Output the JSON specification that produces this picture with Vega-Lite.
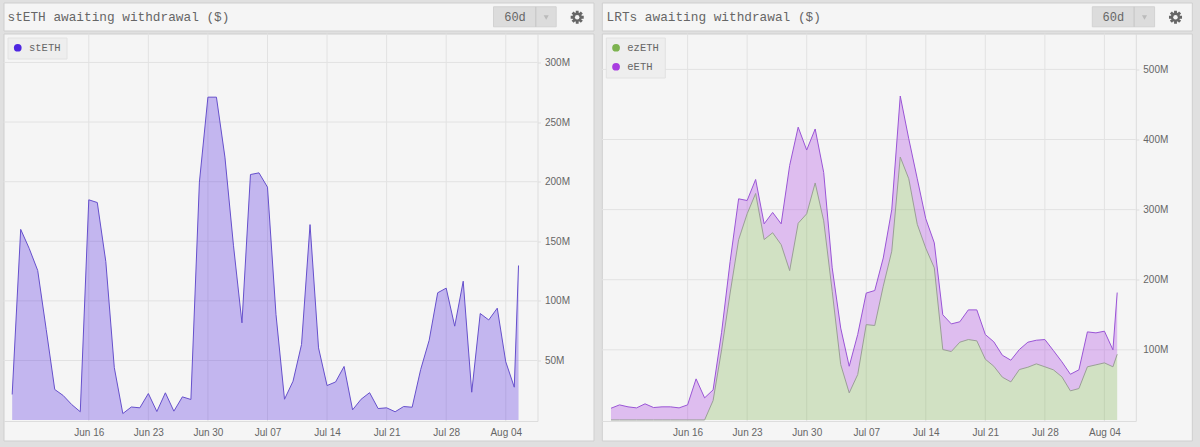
{
  "$schema": "https://vega.github.io/schema/vega-lite/v6.json",
  "background": "#e0e0e0",
  "padding": {"left": 2.5, "top": 1.5, "right": 8, "bottom": 10},
  "config": {
    "view": {"fill": "#f5f5f5", "stroke": "#cfcfcf"},
    "axis": {"labelFont": "Liberation Sans", "labelFontSize": 10, "labelColor": "#666666", "grid": false, "domainColor": "#dddddd", "tickColor": "#dddddd", "title": null},
    "legend": {"orient": "top-left", "offset": 4, "title": null, "fillColor": "#eeeeee", "strokeColor": "#e2e2e2", "padding": 5, "symbolType": "circle", "symbolSize": 60, "symbolStrokeWidth": 0, "symbolOpacity": 1, "labelFont": "Liberation Mono", "labelFontSize": 10.5, "labelColor": "#666666", "labelOffset": 6, "rowPadding": 8}
  },
  "datasets": {
    "steth": [
      {"date": "2024-06-07", "stETH": 21.5}, {"date": "2024-06-08", "stETH": 160}, {"date": "2024-06-09", "stETH": 144}, {"date": "2024-06-10", "stETH": 125.5},
      {"date": "2024-06-11", "stETH": 76}, {"date": "2024-06-12", "stETH": 25.7}, {"date": "2024-06-13", "stETH": 20.6}, {"date": "2024-06-14", "stETH": 13},
      {"date": "2024-06-15", "stETH": 7}, {"date": "2024-06-16", "stETH": 184.8}, {"date": "2024-06-17", "stETH": 182.5}, {"date": "2024-06-18", "stETH": 133},
      {"date": "2024-06-19", "stETH": 44}, {"date": "2024-06-20", "stETH": 5.5}, {"date": "2024-06-21", "stETH": 11}, {"date": "2024-06-22", "stETH": 10.3},
      {"date": "2024-06-23", "stETH": 22.3}, {"date": "2024-06-24", "stETH": 7.2}, {"date": "2024-06-25", "stETH": 22.9}, {"date": "2024-06-26", "stETH": 7.5},
      {"date": "2024-06-27", "stETH": 19.5}, {"date": "2024-06-28", "stETH": 17.3}, {"date": "2024-06-29", "stETH": 199.6}, {"date": "2024-06-30", "stETH": 270.9},
      {"date": "2024-07-01", "stETH": 270.9}, {"date": "2024-07-02", "stETH": 220.6}, {"date": "2024-07-03", "stETH": 146.7}, {"date": "2024-07-04", "stETH": 81.6},
      {"date": "2024-07-05", "stETH": 206}, {"date": "2024-07-06", "stETH": 207.4}, {"date": "2024-07-07", "stETH": 195.4}, {"date": "2024-07-08", "stETH": 88.6},
      {"date": "2024-07-09", "stETH": 17.5}, {"date": "2024-07-10", "stETH": 32.6}, {"date": "2024-07-11", "stETH": 63.4}, {"date": "2024-07-12", "stETH": 164},
      {"date": "2024-07-13", "stETH": 60.6}, {"date": "2024-07-14", "stETH": 29}, {"date": "2024-07-15", "stETH": 32}, {"date": "2024-07-16", "stETH": 45},
      {"date": "2024-07-17", "stETH": 8.6}, {"date": "2024-07-18", "stETH": 17.5}, {"date": "2024-07-19", "stETH": 23}, {"date": "2024-07-20", "stETH": 9.7},
      {"date": "2024-07-21", "stETH": 10.3}, {"date": "2024-07-22", "stETH": 7}, {"date": "2024-07-23", "stETH": 11.4}, {"date": "2024-07-24", "stETH": 10.8},
      {"date": "2024-07-25", "stETH": 42.4}, {"date": "2024-07-26", "stETH": 67}, {"date": "2024-07-27", "stETH": 106.8}, {"date": "2024-07-28", "stETH": 110.7},
      {"date": "2024-07-29", "stETH": 78.8}, {"date": "2024-07-30", "stETH": 116.5}, {"date": "2024-07-31", "stETH": 23.4}, {"date": "2024-08-01", "stETH": 89.4},
      {"date": "2024-08-02", "stETH": 84}, {"date": "2024-08-03", "stETH": 93.9}, {"date": "2024-08-04", "stETH": 48.9}, {"date": "2024-08-05", "stETH": 27.6},
      {"date": "2024-08-05T12:00:00Z", "stETH": 129.7}
    ],
    "lrts": [
      {"date": "2024-06-07", "ezETH": 0, "eETH": 16.7}, {"date": "2024-06-08", "ezETH": 0, "eETH": 21.5}, {"date": "2024-06-09", "ezETH": 0, "eETH": 18.7}, {"date": "2024-06-10", "ezETH": 0, "eETH": 17.2},
      {"date": "2024-06-11", "ezETH": 0, "eETH": 23}, {"date": "2024-06-12", "ezETH": 0, "eETH": 17.7}, {"date": "2024-06-13", "ezETH": 0, "eETH": 18.7}, {"date": "2024-06-14", "ezETH": 0, "eETH": 18.7},
      {"date": "2024-06-15", "ezETH": 0, "eETH": 17.2}, {"date": "2024-06-16", "ezETH": 0, "eETH": 21.5}, {"date": "2024-06-17", "ezETH": 0, "eETH": 58.6}, {"date": "2024-06-18", "ezETH": 0, "eETH": 31.5},
      {"date": "2024-06-19", "ezETH": 27.7, "eETH": 15.2}, {"date": "2024-06-20", "ezETH": 100, "eETH": 25}, {"date": "2024-06-21", "ezETH": 181, "eETH": 45}, {"date": "2024-06-22", "ezETH": 257, "eETH": 58.4},
      {"date": "2024-06-23", "ezETH": 294, "eETH": 19}, {"date": "2024-06-24", "ezETH": 323, "eETH": 20}, {"date": "2024-06-25", "ezETH": 257.3, "eETH": 22.4}, {"date": "2024-06-26", "ezETH": 267, "eETH": 29},
      {"date": "2024-06-27", "ezETH": 250, "eETH": 29.7}, {"date": "2024-06-28", "ezETH": 213, "eETH": 150}, {"date": "2024-06-29", "ezETH": 280.6, "eETH": 137}, {"date": "2024-06-30", "ezETH": 294, "eETH": 91},
      {"date": "2024-07-01", "ezETH": 338, "eETH": 77}, {"date": "2024-07-02", "ezETH": 284, "eETH": 69}, {"date": "2024-07-03", "ezETH": 183.6, "eETH": 33.4}, {"date": "2024-07-04", "ezETH": 79, "eETH": 52},
      {"date": "2024-07-05", "ezETH": 38.6, "eETH": 38}, {"date": "2024-07-06", "ezETH": 64.8, "eETH": 57.2}, {"date": "2024-07-07", "ezETH": 136, "eETH": 45}, {"date": "2024-07-08", "ezETH": 134.7, "eETH": 49.9},
      {"date": "2024-07-09", "ezETH": 190.7, "eETH": 40.3}, {"date": "2024-07-10", "ezETH": 240.7, "eETH": 59.3}, {"date": "2024-07-11", "ezETH": 375, "eETH": 87}, {"date": "2024-07-12", "ezETH": 344, "eETH": 57},
      {"date": "2024-07-13", "ezETH": 279, "eETH": 65}, {"date": "2024-07-14", "ezETH": 245, "eETH": 42}, {"date": "2024-07-15", "ezETH": 217, "eETH": 35.6}, {"date": "2024-07-16", "ezETH": 100.4, "eETH": 49.6},
      {"date": "2024-07-17", "ezETH": 97.6, "eETH": 39.4}, {"date": "2024-07-18", "ezETH": 110.9, "eETH": 29.1}, {"date": "2024-07-19", "ezETH": 114.7, "eETH": 42.3}, {"date": "2024-07-20", "ezETH": 112.8, "eETH": 44.2},
      {"date": "2024-07-21", "ezETH": 86.6, "eETH": 35.2}, {"date": "2024-07-22", "ezETH": 76.6, "eETH": 34.8}, {"date": "2024-07-23", "ezETH": 61, "eETH": 31.3}, {"date": "2024-07-24", "ezETH": 54.3, "eETH": 30.9},
      {"date": "2024-07-25", "ezETH": 71.9, "eETH": 28.5}, {"date": "2024-07-26", "ezETH": 75.2, "eETH": 35.7}, {"date": "2024-07-27", "ezETH": 80, "eETH": 33.7}, {"date": "2024-07-28", "ezETH": 75.8, "eETH": 38.9},
      {"date": "2024-07-29", "ezETH": 71.5, "eETH": 27.5}, {"date": "2024-07-30", "ezETH": 61.5, "eETH": 21.4}, {"date": "2024-07-31", "ezETH": 41.5, "eETH": 23.7}, {"date": "2024-08-01", "ezETH": 44.8, "eETH": 26.7},
      {"date": "2024-08-02", "ezETH": 75.8, "eETH": 49.8}, {"date": "2024-08-03", "ezETH": 78.6, "eETH": 45.6}, {"date": "2024-08-04", "ezETH": 81.4, "eETH": 45.2}, {"date": "2024-08-05", "ezETH": 75.8, "eETH": 24.2},
      {"date": "2024-08-05T12:00:00Z", "ezETH": 93.7, "eETH": 88}
    ],
    "header": [{"range": "60d"}],
    "weeks": [{"week": "2024-06-16"}, {"week": "2024-06-23"}, {"week": "2024-06-30"}, {"week": "2024-07-07"}, {"week": "2024-07-14"}, {"week": "2024-07-21"}, {"week": "2024-07-28"}, {"week": "2024-08-04"}],
    "levelsLeft": [{"level": 50}, {"level": 100}, {"level": 150}, {"level": 200}, {"level": 250}, {"level": 300}],
    "levelsRight": [{"level": 100}, {"level": 200}, {"level": 300}, {"level": 400}, {"level": 500}]
  },
  "resolve": {"scale": {"color": "independent", "stroke": "independent"}, "legend": {"color": "independent"}},
  "spacing": 6.3,
  "hconcat": [
    {
      "spacing": 1,
      "resolve": {"scale": {"color": "independent"}, "legend": {"color": "independent"}},
      "vconcat": [
        {
          "width": 590,
          "height": 28,
          "data": {"name": "header"},
          "encoding": {
            "x": {"type": "quantitative", "scale": {"domain": [0, 590], "nice": false, "zero": false}, "axis": null},
            "y": {"type": "quantitative", "scale": {"domain": [28, 0], "nice": false, "zero": false}, "axis": null}
          },
          "layer": [
            {"mark": {"type": "text", "text": "stETH awaiting withdrawal ($)", "font": "Liberation Mono", "fontSize": 12.75, "color": "#666666", "align": "left", "baseline": "middle"}, "encoding": {"x": {"datum": 4}, "y": {"datum": 14.5}}},
            {"mark": {"type": "rect", "fill": "#dcdcdc", "stroke": "#d2d2d2"}, "encoding": {"x": {"datum": 490}, "x2": {"datum": 552.7}, "y": {"datum": 4.3}, "y2": {"datum": 24.3}}},
            {"mark": {"type": "rule", "stroke": "#c4c4c4"}, "encoding": {"x": {"datum": 532.3}, "y": {"datum": 4.3}, "y2": {"datum": 24.3}}},
            {"mark": {"type": "text", "font": "Liberation Mono", "fontSize": 12, "color": "#666666", "baseline": "middle"}, "encoding": {"text": {"field": "range"}, "x": {"datum": 511.5}, "y": {"datum": 14.5}}},
            {"mark": {"type": "point", "shape": "triangle-down", "filled": true, "color": "#bbbbbb", "size": 26, "opacity": 1}, "encoding": {"x": {"datum": 542.7}, "y": {"datum": 15}}},
            {"mark": {"type": "point", "shape": "M-1,-.22L1,-.22L1,.22L-1,.22ZM-.22,-1L.22,-1L.22,1L-.22,1ZM-.55,-.86L.86,.55L.55,.86L-.86,-.55ZM-.86,.55L.55,-.86L.86,-.55L-.55,.86ZM-.72,0A.72,.72 0 1 1 .72,0A.72,.72 0 1 1 -.72,0Z", "filled": true, "color": "#666666", "size": 170, "opacity": 1}, "encoding": {"x": {"datum": 573.7}, "y": {"datum": 14.7}}},
            {"mark": {"type": "point", "shape": "circle", "filled": true, "color": "#f5f5f5", "size": 20, "opacity": 1}, "encoding": {"x": {"datum": 573.7}, "y": {"datum": 14.7}}}
          ]
        },
        {
          "width": 590,
          "height": 407,
          "layer": [
            {
              "data": {"name": "weeks"},
              "mark": {"type": "rule", "stroke": "#e2e2e2"},
              "encoding": {
                "x": {"field": "week", "type": "temporal", "scale": {"type": "utc", "domain": ["2024-06-05T23:30:00Z", "2024-08-07T17:30:00Z"], "range": [0, 534], "nice": false}},
                "y": {"datum": -0.75, "type": "quantitative", "scale": {"domain": [-0.75, 324.3], "range": [387.5, 0], "nice": false, "zero": false}},
                "y2": {"datum": 324.3}
              }
            },
            {
              "data": {"name": "levelsLeft"},
              "mark": {"type": "rule", "stroke": "#e2e2e2"},
              "encoding": {
                "x": {"datum": {"year": 2024, "month": "jun", "date": 5, "hours": 23, "minutes": 30, "utc": true}, "type": "temporal", "scale": {"type": "utc", "domain": ["2024-06-05T23:30:00Z", "2024-08-07T17:30:00Z"], "range": [0, 534], "nice": false}},
                "x2": {"datum": {"year": 2024, "month": "aug", "date": 7, "hours": 17, "minutes": 30, "utc": true}},
                "y": {"field": "level", "type": "quantitative", "scale": {"domain": [-0.75, 324.3], "range": [387.5, 0], "nice": false, "zero": false}}
              }
            },
            {
              "data": {"name": "steth"},
              "transform": [{"fold": ["stETH"], "as": ["series", "value"]}],
              "mark": {"type": "area", "fillOpacity": 0.3},
              "encoding": {
                "x": {"field": "date", "type": "temporal", "scale": {"type": "utc", "domain": ["2024-06-05T23:30:00Z", "2024-08-07T17:30:00Z"], "range": [0, 534], "nice": false}},
                "y": {"field": "value", "type": "quantitative", "scale": {"domain": [-0.75, 324.3], "range": [387.5, 0], "nice": false, "zero": false}},
                "color": {"field": "series", "type": "nominal", "scale": {"domain": ["stETH"], "range": ["#4e26e1"]}}
              }
            },
            {
              "data": {"name": "steth"},
              "transform": [{"fold": ["stETH"], "as": ["series", "value"]}],
              "mark": {"type": "line", "strokeWidth": 1, "color": "#6650cc"},
              "encoding": {
                "x": {
                  "field": "date", "type": "temporal",
                  "scale": {"type": "utc", "domain": ["2024-06-05T23:30:00Z", "2024-08-07T17:30:00Z"], "range": [0, 534], "nice": false},
                  "axis": {"orient": "bottom", "offset": -19.5, "format": "%b %d", "tickSize": 0, "labelPadding": 6, "labelFlush": false, "title": null,
                    "values": [{"year": 2024, "month": "jun", "date": 16, "utc": true}, {"year": 2024, "month": "jun", "date": 23, "utc": true}, {"year": 2024, "month": "jun", "date": 30, "utc": true}, {"year": 2024, "month": "jul", "date": 7, "utc": true}, {"year": 2024, "month": "jul", "date": 14, "utc": true}, {"year": 2024, "month": "jul", "date": 21, "utc": true}, {"year": 2024, "month": "jul", "date": 28, "utc": true}, {"year": 2024, "month": "aug", "date": 4, "utc": true}]}
                },
                "y": {
                  "field": "value", "type": "quantitative",
                  "scale": {"domain": [-0.75, 324.3], "range": [387.5, 0], "nice": false, "zero": false},
                  "axis": {"orient": "right", "offset": -56, "values": [50, 100, 150, 200, 250, 300], "labelExpr": "datum.value + 'M'", "tickSize": 3, "labelPadding": 4, "title": null}
                }
              }
            }
          ]
        }
      ]
    },
    {
      "spacing": 1,
      "resolve": {"scale": {"color": "independent"}, "legend": {"color": "independent"}},
      "vconcat": [
        {
          "width": 590,
          "height": 28,
          "data": {"name": "header"},
          "encoding": {
            "x": {"type": "quantitative", "scale": {"domain": [0, 590], "nice": false, "zero": false}, "axis": null},
            "y": {"type": "quantitative", "scale": {"domain": [28, 0], "nice": false, "zero": false}, "axis": null}
          },
          "layer": [
            {"mark": {"type": "text", "text": "LRTs awaiting withdrawal ($)", "font": "Liberation Mono", "fontSize": 12.75, "color": "#666666", "align": "left", "baseline": "middle"}, "encoding": {"x": {"datum": 4.8}, "y": {"datum": 14.5}}},
            {"mark": {"type": "rect", "fill": "#dcdcdc", "stroke": "#d2d2d2"}, "encoding": {"x": {"datum": 490.5}, "x2": {"datum": 552.8}, "y": {"datum": 4.3}, "y2": {"datum": 24.3}}},
            {"mark": {"type": "rule", "stroke": "#c4c4c4"}, "encoding": {"x": {"datum": 532.3}, "y": {"datum": 4.3}, "y2": {"datum": 24.3}}},
            {"mark": {"type": "text", "font": "Liberation Mono", "fontSize": 12, "color": "#666666", "baseline": "middle"}, "encoding": {"text": {"field": "range"}, "x": {"datum": 511.5}, "y": {"datum": 14.5}}},
            {"mark": {"type": "point", "shape": "triangle-down", "filled": true, "color": "#bbbbbb", "size": 26, "opacity": 1}, "encoding": {"x": {"datum": 542.7}, "y": {"datum": 15}}},
            {"mark": {"type": "point", "shape": "M-1,-.22L1,-.22L1,.22L-1,.22ZM-.22,-1L.22,-1L.22,1L-.22,1ZM-.55,-.86L.86,.55L.55,.86L-.86,-.55ZM-.86,.55L.55,-.86L.86,-.55L-.55,.86ZM-.72,0A.72,.72 0 1 1 .72,0A.72,.72 0 1 1 -.72,0Z", "filled": true, "color": "#666666", "size": 170, "opacity": 1}, "encoding": {"x": {"datum": 573.7}, "y": {"datum": 14.7}}},
            {"mark": {"type": "point", "shape": "circle", "filled": true, "color": "#f5f5f5", "size": 20, "opacity": 1}, "encoding": {"x": {"datum": 573.7}, "y": {"datum": 14.7}}}
          ]
        },
        {
          "width": 590,
          "height": 407,
          "layer": [
            {
              "data": {"name": "weeks"},
              "mark": {"type": "rule", "stroke": "#e2e2e2"},
              "encoding": {
                "x": {"field": "week", "type": "temporal", "scale": {"type": "utc", "domain": ["2024-06-05T22:00:00Z", "2024-08-07T16:30:00Z"], "range": [0, 534], "nice": false}},
                "y": {"datum": -1.5, "type": "quantitative", "scale": {"domain": [-1.5, 551.2], "range": [387.5, 0], "nice": false, "zero": false}},
                "y2": {"datum": 551.2}
              }
            },
            {
              "data": {"name": "levelsRight"},
              "mark": {"type": "rule", "stroke": "#e2e2e2"},
              "encoding": {
                "x": {"datum": {"year": 2024, "month": "jun", "date": 5, "hours": 22, "utc": true}, "type": "temporal", "scale": {"type": "utc", "domain": ["2024-06-05T22:00:00Z", "2024-08-07T16:30:00Z"], "range": [0, 534], "nice": false}},
                "x2": {"datum": {"year": 2024, "month": "aug", "date": 7, "hours": 16, "minutes": 30, "utc": true}},
                "y": {"field": "level", "type": "quantitative", "scale": {"domain": [-1.5, 551.2], "range": [387.5, 0], "nice": false, "zero": false}}
              }
            },
            {
              "data": {"name": "lrts"},
              "transform": [{"fold": ["ezETH", "eETH"], "as": ["series", "value"]}],
              "mark": {"type": "area", "fillOpacity": 0.3},
              "encoding": {
                "x": {"field": "date", "type": "temporal", "scale": {"type": "utc", "domain": ["2024-06-05T22:00:00Z", "2024-08-07T16:30:00Z"], "range": [0, 534], "nice": false}},
                "y": {"field": "value", "type": "quantitative", "stack": "zero", "scale": {"domain": [-1.5, 551.2], "range": [387.5, 0], "nice": false, "zero": false}},
                "color": {"field": "series", "type": "nominal", "scale": {"domain": ["ezETH", "eETH"], "range": ["#7db350", "#a83de0"]}}
              }
            },
            {
              "data": {"name": "lrts"},
              "transform": [{"fold": ["ezETH", "eETH"], "as": ["series", "value"]}],
              "mark": {"type": "line", "strokeWidth": 1},
              "encoding": {
                "x": {
                  "field": "date", "type": "temporal",
                  "scale": {"type": "utc", "domain": ["2024-06-05T22:00:00Z", "2024-08-07T16:30:00Z"], "range": [0, 534], "nice": false},
                  "axis": {"orient": "bottom", "offset": -19.5, "format": "%b %d", "tickSize": 0, "labelPadding": 6, "labelFlush": false, "title": null,
                    "values": [{"year": 2024, "month": "jun", "date": 16, "utc": true}, {"year": 2024, "month": "jun", "date": 23, "utc": true}, {"year": 2024, "month": "jun", "date": 30, "utc": true}, {"year": 2024, "month": "jul", "date": 7, "utc": true}, {"year": 2024, "month": "jul", "date": 14, "utc": true}, {"year": 2024, "month": "jul", "date": 21, "utc": true}, {"year": 2024, "month": "jul", "date": 28, "utc": true}, {"year": 2024, "month": "aug", "date": 4, "utc": true}]}
                },
                "y": {
                  "field": "value", "type": "quantitative", "stack": "zero",
                  "scale": {"domain": [-1.5, 551.2], "range": [387.5, 0], "nice": false, "zero": false},
                  "axis": {"orient": "right", "offset": -56, "values": [100, 200, 300, 400, 500], "labelExpr": "datum.value + 'M'", "tickSize": 3, "labelPadding": 4, "title": null}
                },
                "stroke": {"field": "series", "type": "nominal", "scale": {"domain": ["ezETH", "eETH"], "range": ["#9a9f96", "#9a55d6"]}, "legend": null}
              }
            }
          ]
        }
      ]
    }
  ]
}
